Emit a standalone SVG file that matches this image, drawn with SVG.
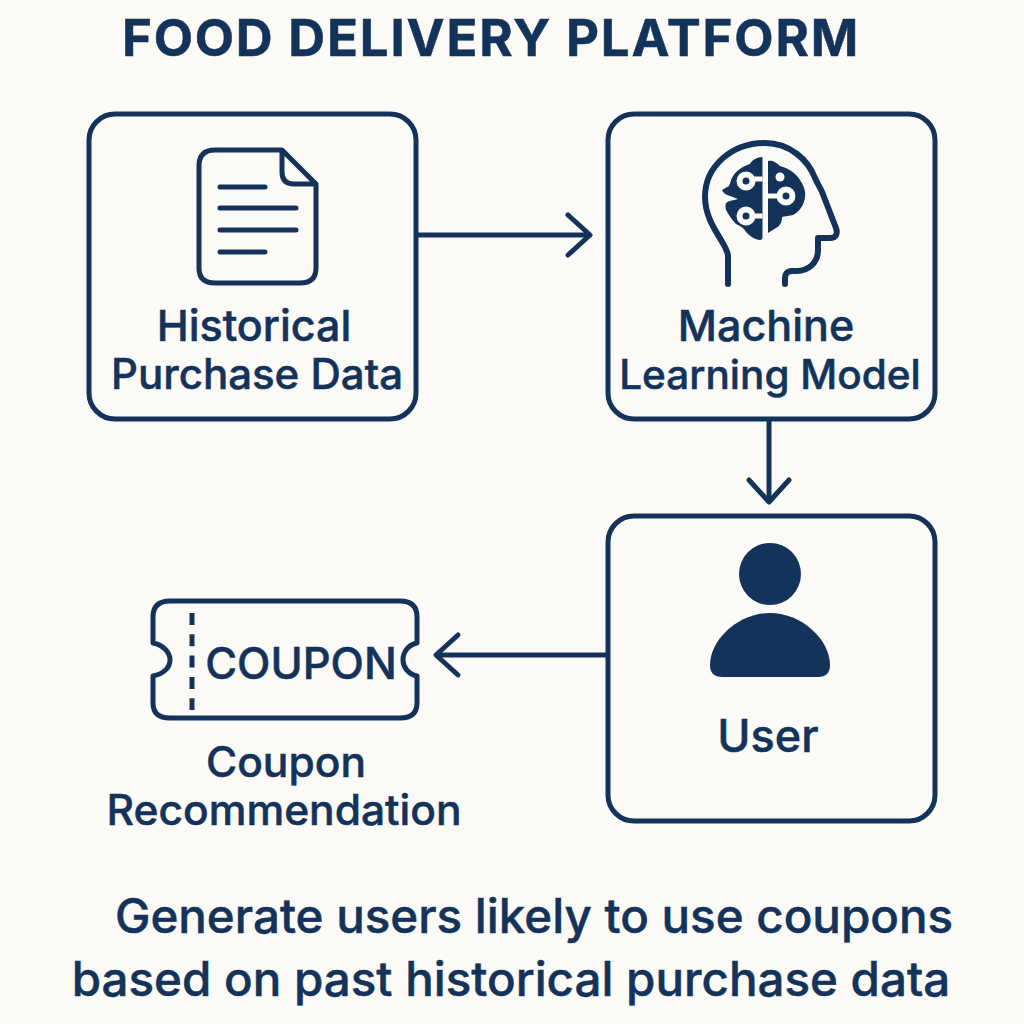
<svg xmlns="http://www.w3.org/2000/svg" width="1024" height="1024" viewBox="0 0 1024 1024">
<style>
.t{font-family:"Inter","Liberation Sans",sans-serif;fill:#14335b;stroke:#14335b;stroke-width:.5;font-weight:500;text-anchor:middle}
.box{fill:none;stroke:#14335b;stroke-width:5}
.ln{fill:none;stroke:#14335b;stroke-width:5;stroke-linecap:round;stroke-linejoin:round}
.head{stroke-width:6}
.cut{fill:none;stroke:#fbfaf6;stroke-width:5}
.ring{fill:#14335b;stroke:#fbfaf6;stroke-width:6}
</style>
<defs>
<marker id="arr" markerUnits="userSpaceOnUse" markerWidth="34" markerHeight="48" refX="26" refY="24" orient="auto">
<path d="M4 4L26 24L4 44" fill="none" stroke="#14335b" stroke-width="5" stroke-linecap="round" stroke-linejoin="round"/>
</marker>
</defs>
<rect width="1024" height="1024" fill="#fbfaf6"/>
<text class="t" x="491" y="56" font-size="51" style="font-weight:700" letter-spacing="1.8">FOOD DELIVERY PLATFORM</text>
<g id="connectors">
<path class="box" d="M418 235H590" marker-end="url(#arr)"/>
<path class="box" d="M769 420V502" marker-end="url(#arr)"/>
<path class="box" d="M607 655H436" marker-end="url(#arr)"/>
</g>
<g id="historical">
<rect class="box" x="89" y="114" width="327" height="305" rx="26"/>
<path class="ln" d="M282 150H215Q199 150 199 166V268Q199 283 215 283H300Q316 283 316 268V184ZM282 150V172Q282 184 294 184H316"/>
<path class="ln" d="M220 187H265M220 208H296M220 230H296M220 252H265"/>
<text class="t" x="254" y="341" font-size="43">Historical</text>
<text class="t" x="257" y="389" font-size="42">Purchase Data</text>
</g>
<g id="model">
<rect class="box" x="608" y="114" width="327" height="305" rx="26"/>
<path class="ln head" d="M728 284V256C728 244 705 225 705 197C705 166 732 143 765 143C790 143 808 160 815 178C819 187 822 190 824 197L836 228C838 234 836 238 830 238H818V250C818 263 808 271 797 271H792C787 271 785 274 785 278V284"/>
<path fill="#14335b" d="M762.500 157C757 157 752 160 750 164C744 166 735 170 731 180C730 184 729 187 727 187L722 190C723 193 726 195 730 196L738 199L730 201C725 202 725 205 726 210C728 214 732 220 736 224C740 226 744 228 746 232C750 236 755 240 760 240Q762.500 240 762.500 237Z"/>
<path fill="#14335b" d="M768 161C772 160 776 162 780 166C788 168 796 173 800 180C804 186 806 192 805 197C804 205 800 211 793 215C790 216 785 216 782 217C782 222 780 226 776 228L768 233Z"/>
<path class="cut" d="M762.500 179H752M762.500 216H752M768 196H780"/>
<circle class="ring" cx="746" cy="181" r="6.500"/>
<circle class="ring" cx="746" cy="216" r="6.500"/>
<circle class="ring" cx="786" cy="196" r="6.500"/>
<circle cx="780" cy="177" r="4.500" fill="#fbfaf6"/>
<text class="t" x="766" y="341" font-size="43">Machine</text>
<text class="t" x="770" y="389" font-size="40.500">Learning Model</text>
</g>
<g id="user">
<rect class="box" x="608" y="516" width="327" height="305" rx="26"/>
<circle cx="770" cy="574" r="31" fill="#14335b"/>
<path fill="#14335b" d="M770 613C802 613 830 640 830 665Q830 677 818 677H722Q710 677 710 665C710 640 738 613 770 613Z"/>
<text class="t" x="768" y="752" font-size="45">User</text>
</g>
<g id="coupon">
<path class="ln" d="M170 601H400Q417 601 417 617V643C408 645 403 652 403 660C403 667 408 674 417 676V703Q417 718 400 718H170Q153 718 153 703V676C163 674 170 668 170 660C170 652 163 645 153 643V617Q153 601 170 601Z"/>
<path fill="none" stroke="#14335b" stroke-width="5" stroke-dasharray="12 9.300" d="M192 613V710"/>
<text class="t" x="301" y="679" font-size="43.500">COUPON</text>
<text class="t" x="286" y="777" font-size="42.500">Coupon</text>
<text class="t" x="284" y="825" font-size="42.500">Recommendation</text>
</g>
<g id="caption">
<text class="t" x="534" y="933" font-size="47.500">Generate users likely to use coupons</text>
<text class="t" x="511" y="996" font-size="47.500">based on past historical purchase data</text>
</g>
</svg>
